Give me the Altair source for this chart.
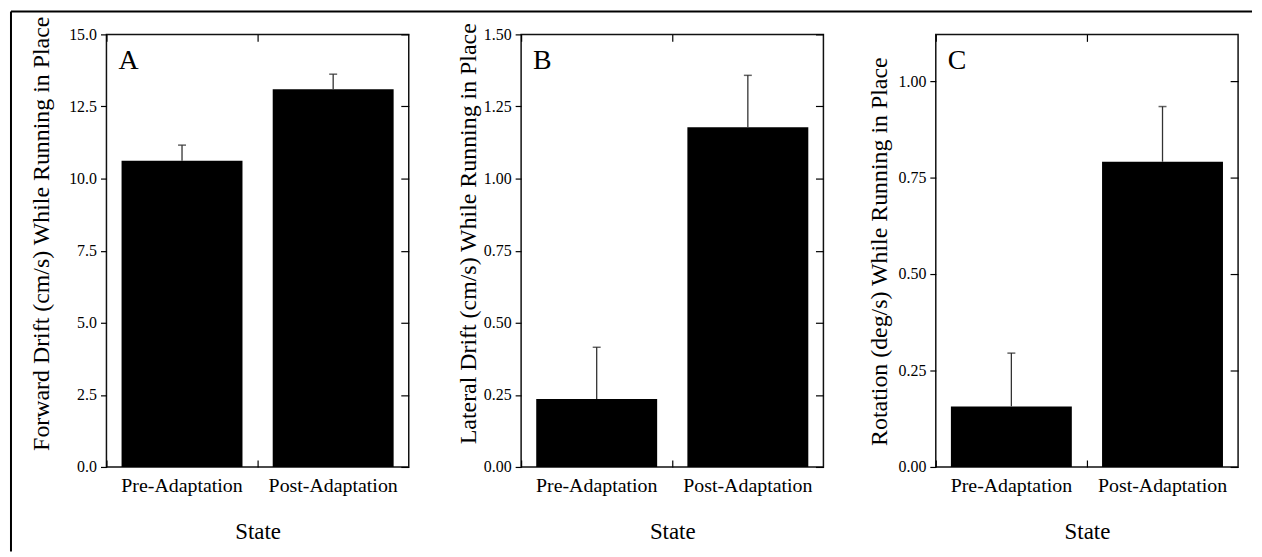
import altair as alt
import pandas as pd

states = ["Pre-Adaptation", "Post-Adaptation"]

forward_mean = [10.62, 13.10]
forward_upper = [11.16, 13.62]
lateral_mean = [0.236, 1.178]
lateral_upper = [0.415, 1.358]
rotation_mean = [0.157, 0.791]
rotation_upper = [0.295, 0.934]

forward_ticks = [0, 2.5, 5, 7.5, 10, 12.5, 15]
lateral_ticks = [0, 0.25, 0.5, 0.75, 1.0, 1.25, 1.5]
rotation_ticks = [0, 0.25, 0.5, 0.75, 1.0]

FONT = "Liberation Serif"
W, H = 304, 435


def panel(mean, upper, domain, ticks, fmt, title, letter, title_pad, title_y, frame=False):
    df = pd.DataFrame({"State": states, "Mean": mean, "Upper": upper})
    xs = alt.Scale(domain=states, paddingInner=0, paddingOuter=0)
    ys = alt.Scale(domain=domain, nice=False, zero=True)
    base = alt.Chart(df)
    bars = base.mark_bar(color="black", width=alt.RelativeBandSize(0.8)).encode(
        x=alt.X("State:N", sort=states, scale=xs,
                axis=alt.Axis(title="State", labelAngle=0, ticks=False, domain=False,
                              labelPadding=9, titlePadding=25, labelFontSize=20,
                              titleFontSize=23)),
        y=alt.Y("Mean:Q", scale=ys,
                axis=alt.Axis(title=title, values=ticks, format=fmt, domain=False,
                              tickSize=6, labelPadding=4, titlePadding=title_pad,
                              titleY=title_y,
                              labelFontSize=16, titleFontSize=24, grid=False)),
    )
    err = base.mark_rule(color="#333333", strokeWidth=1.3).encode(
        x=alt.X("State:N", sort=states, scale=xs,
                axis=alt.Axis(orient="top", offset=-H, labels=False, domain=False,
                              title=None, tickSize=7, bandPosition=0)),
        y=alt.Y("Mean:Q", scale=ys,
                axis=alt.Axis(orient="left", offset=-W, labels=False, domain=False,
                              title=None, values=ticks, tickSize=8, grid=False)),
        y2="Upper:Q",
    )
    caps = base.mark_tick(color="#222222", size=8, thickness=1.5).encode(
        x=alt.X("State:N", sort=states, scale=xs,
                axis=alt.Axis(orient="bottom", offset=-H, labels=False, domain=False,
                              title=None, tickSize=7, bandPosition=0)),
        y=alt.Y("Upper:Q", scale=ys, axis=None),
    )
    letter_layer = alt.Chart(pd.DataFrame({"t": [letter]})).mark_text(
        font=FONT, fontSize=28, align="left", baseline="alphabetic", color="black"
    ).encode(text="t:N", x=alt.value(12), y=alt.value(35))
    layers = [bars, err, caps, letter_layer]
    if frame:
        fr = alt.Chart(pd.DataFrame({"k": [0]}))
        left_line = fr.mark_rule(color="black", strokeWidth=2).encode(
            x=alt.value(-96), y=alt.value(-23), y2=alt.value(520))
        top_line = fr.mark_rule(color="black", strokeWidth=2).encode(
            x=alt.value(-96), x2=alt.value(1152), y=alt.value(-23))
        layers += [left_line, top_line]
    return alt.layer(*layers).resolve_axis(x="independent", y="independent").properties(
        width=W, height=H)


pa = panel(forward_mean, forward_upper, [0, 15], forward_ticks, ".1f",
           "Forward Drift (cm/s) While Running in Place", "A", 15, 200, frame=True)
pb = panel(lateral_mean, lateral_upper, [0, 1.5], lateral_ticks, ".2f",
           "Lateral Drift (cm/s) While Running in Place", "B", 3, 200)
pc = panel(rotation_mean, rotation_upper, [0, 1.121], rotation_ticks, ".2f",
           "Rotation (deg/s) While Running in Place", "C", 7, 218)

chart = alt.hconcat(pa, pb, pc, spacing=113, bounds="flush").properties(
    padding={"left": 1, "top": 0, "right": 0, "bottom": 0}
).configure_view(
    stroke="#111111", strokeWidth=1.5
).configure_axis(
    labelFont=FONT, titleFont=FONT, tickColor="black", tickWidth=1.2,
    labelColor="black", titleColor="black", titleFontWeight="normal"
)

chart.save("out.html", embed_options={"renderer": "svg", "actions": False})
